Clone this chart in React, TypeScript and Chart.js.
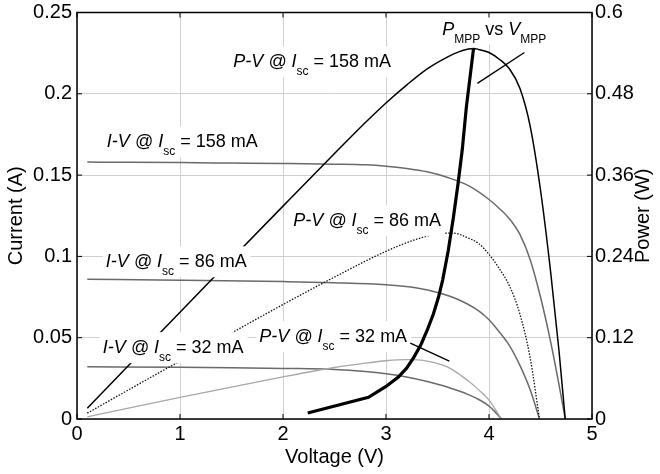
import React, { useEffect, useRef } from 'react';
import { Chart, registerables } from 'chart.js';

Chart.register(...registerables);

const FONT = '"Liberation Sans", Arial, Helvetica, sans-serif';

// Axis ticks
const voltageTicks = [0, 1, 2, 3, 4, 5];
const voltageTickLabels = ['0', '1', '2', '3', '4', '5'];
const currentTicks = [0, 0.05, 0.1, 0.15, 0.2, 0.25];
const currentTickLabels = ['0', '0.05', '0.1', '0.15', '0.2', '0.25'];
const powerTicks = [0, 0.12, 0.24, 0.36, 0.48, 0.6];
const powerTickLabels = ['0', '0.12', '0.24', '0.36', '0.48', '0.6'];

// I-V @ Isc = 158 mA
const iv158V = [0.1, 0.5, 1.0, 1.5, 2.0, 2.5, 2.8, 3.0, 3.2, 3.4, 3.6, 3.8, 4.0, 4.1, 4.2, 4.3, 4.4, 4.5, 4.6, 4.68, 4.74];
const iv158I = [0.158, 0.1579, 0.1577, 0.1574, 0.1571, 0.1567, 0.1563, 0.1555, 0.1541, 0.152, 0.1485, 0.1435, 0.135, 0.1295, 0.123, 0.1135, 0.098, 0.075, 0.047, 0.021, 0];

// P-V @ Isc = 158 mA
const pv158V = [0.1, 0.5, 1.0, 1.5, 2.0, 2.5, 2.8, 3.0, 3.2, 3.4, 3.6, 3.7, 3.8, 3.85, 3.9, 4.0, 4.1, 4.2, 4.3, 4.4, 4.5, 4.6, 4.68, 4.74];
const pv158P = [0.0158, 0.079, 0.1577, 0.2361, 0.3142, 0.3918, 0.4376, 0.4665, 0.4928, 0.5168, 0.5346, 0.5415, 0.546, 0.547, 0.5455, 0.541, 0.531, 0.5166, 0.4881, 0.432, 0.338, 0.215, 0.1, 0];

// I-V @ Isc = 86 mA
const iv86V = [0.1, 1.0, 2.0, 2.5, 3.0, 3.3, 3.5, 3.7, 3.9, 4.0, 4.1, 4.2, 4.3, 4.4, 4.49];
const iv86I = [0.086, 0.0854, 0.0845, 0.0838, 0.0825, 0.0805, 0.0778, 0.0735, 0.0665, 0.061, 0.0535, 0.045, 0.033, 0.018, 0];

// P-V @ Isc = 86 mA
const pv86V = [0.1, 0.5, 1.0, 1.5, 2.0, 2.5, 3.0, 3.3, 3.5, 3.65, 3.8, 3.9, 4.0, 4.1, 4.2, 4.3, 4.4, 4.49];
const pv86P = [0.0086, 0.043, 0.0855, 0.127, 0.169, 0.2095, 0.2475, 0.2655, 0.273, 0.2745, 0.267, 0.259, 0.243, 0.222, 0.196, 0.155, 0.09, 0];

// I-V @ Isc = 32 mA
const iv32V = [0.1, 1.0, 1.5, 2.0, 2.5, 2.8, 3.0, 3.2, 3.4, 3.6, 3.8, 3.9, 4.0, 4.05, 4.12];
const iv32I = [0.0321, 0.0318, 0.0315, 0.0311, 0.0305, 0.0292, 0.0278, 0.0258, 0.023, 0.0195, 0.015, 0.012, 0.008, 0.005, 0];

// P-V @ Isc = 32 mA
const pv32V = [0.1, 0.5, 1.0, 1.5, 2.0, 2.5, 2.8, 3.0, 3.2, 3.4, 3.6, 3.8, 3.9, 4.0, 4.12];
const pv32P = [0.0032, 0.016, 0.0318, 0.0472, 0.0622, 0.076, 0.0825, 0.086, 0.0875, 0.0855, 0.0765, 0.056, 0.043, 0.028, 0];

// P_MPP vs V_MPP
const mppV = [2.24, 2.83, 3.0, 3.12, 3.2, 3.27, 3.34, 3.4, 3.46, 3.51, 3.55, 3.605, 3.655, 3.7, 3.74, 3.78, 3.85];
const mppP = [0.0088, 0.032, 0.048, 0.062, 0.075, 0.091, 0.11, 0.131, 0.155, 0.18, 0.205, 0.249, 0.298, 0.348, 0.397, 0.46, 0.547];

// Annotations (text parts: i = italic, s = subscript, n = normal)
type Part = [string, string];
const labelParts: Part[][] = [
  [['P-V @ ', 'i'], ['I', 'i'], ['sc', 's'], [' = 158 mA', 'n']],
  [['I-V @ ', 'i'], ['I', 'i'], ['sc', 's'], [' = 158 mA', 'n']],
  [['I-V @ ', 'i'], ['I', 'i'], ['sc', 's'], [' = 86 mA', 'n']],
  [['I-V @ ', 'i'], ['I', 'i'], ['sc', 's'], [' = 32 mA', 'n']],
  [['P-V @ ', 'i'], ['I', 'i'], ['sc', 's'], [' = 86 mA', 'n']],
  [['P-V @ ', 'i'], ['I', 'i'], ['sc', 's'], [' = 32 mA', 'n']],
  [['P', 'i'], ['MPP', 's'], [' vs ', 'n'], ['V', 'i'], ['MPP', 's']],
];
const labelV = [1.516, 0.29, 0.28, 0.25, 2.1, 1.77, 3.547];
const labelI = [0.2162, 0.167, 0.0933, 0.0405, 0.1185, 0.0473, 0.2364];

// Leader lines (voltage, power)
const leaderV = [[3.887, 4.344], [3.236, 3.615]];
const leaderP = [[0.4953, 0.541], [0.112, 0.0855]];

function pts(xs: number[], ys: number[]) {
  return xs.map((x, i) => ({ x, y: ys[i] }));
}

function fontFor(st: string) {
  if (st === 'i') return `italic 18px ${FONT}`;
  if (st === 's') return `12px ${FONT}`;
  return `18px ${FONT}`;
}

export default function App() {
  const ref = useRef<HTMLCanvasElement>(null);

  useEffect(() => {
    document.body.style.margin = '0';
    const canvas = ref.current!;

    const overlay = {
      id: 'overlay',
      afterDatasetsDraw(chart: any) {
        const ctx = chart.ctx as CanvasRenderingContext2D;
        const ca = chart.chartArea;
        const sx = chart.scales.x;
        const sy = chart.scales.y;
        const sp = chart.scales.y1;
        ctx.save();

        // text labels with white background
        for (let k = 0; k < labelParts.length; k++) {
          const parts = labelParts[k];
          const px = sx.getPixelForValue(labelV[k]);
          const py = sy.getPixelForValue(labelI[k]);
          const widths: number[] = [];
          let w = 0;
          for (const [t, st] of parts) {
            ctx.font = fontFor(st);
            const m = ctx.measureText(t).width;
            widths.push(m);
            w += m;
          }
          ctx.fillStyle = '#ffffff';
          ctx.fillRect(px - 3, py - 21, w + 7, 31);
          ctx.fillStyle = '#000000';
          ctx.textAlign = 'left';
          ctx.textBaseline = 'alphabetic';
          let cx = px;
          parts.forEach(([t, st], j) => {
            ctx.font = fontFor(st);
            ctx.fillText(t, cx, st === 's' ? py + 8 : py);
            cx += widths[j];
          });
        }

        // leader lines
        ctx.strokeStyle = '#000000';
        ctx.lineWidth = 1.4;
        leaderV.forEach((vs, k) => {
          ctx.beginPath();
          ctx.moveTo(sx.getPixelForValue(vs[0]), sp.getPixelForValue(leaderP[k][0]));
          ctx.lineTo(sx.getPixelForValue(vs[1]), sp.getPixelForValue(leaderP[k][1]));
          ctx.stroke();
        });

        // box
        ctx.lineWidth = 1.5;
        ctx.strokeRect(ca.left, ca.top, ca.right - ca.left, ca.bottom - ca.top);

        // inward tick marks
        const tl = 5;
        ctx.lineWidth = 1;
        const line = (x1: number, y1: number, x2: number, y2: number) => {
          ctx.beginPath();
          ctx.moveTo(x1, y1);
          ctx.lineTo(x2, y2);
          ctx.stroke();
        };
        voltageTicks.forEach((v) => {
          const p = sx.getPixelForValue(v);
          line(p, ca.bottom, p, ca.bottom - tl);
          line(p, ca.top, p, ca.top + tl);
        });
        currentTicks.forEach((v) => {
          const p = sy.getPixelForValue(v);
          line(ca.left, p, ca.left + tl, p);
        });
        powerTicks.forEach((v) => {
          const p = sp.getPixelForValue(v);
          line(ca.right, p, ca.right - tl, p);
        });

        // right axis title (reads bottom to top)
        ctx.translate(643, (ca.top + ca.bottom) / 2);
        ctx.rotate(-Math.PI / 2);
        ctx.font = `20px ${FONT}`;
        ctx.textAlign = 'center';
        ctx.textBaseline = 'middle';
        ctx.fillStyle = '#000000';
        ctx.fillText('Power (W)', 0, 0);

        ctx.restore();
      },
    };

    const tickFont = { family: FONT, size: 20 };
    const gridColor = '#d0d0d0';

    const chart = new Chart(canvas, {
      type: 'scatter',
      data: {
        datasets: [
          {
            label: 'MPP',
            data: pts(mppV, mppP),
            yAxisID: 'y1',
            borderColor: '#000000',
            borderWidth: 3.2,
            showLine: true,
            pointRadius: 0,
            tension: 0,
          },
          {
            label: 'PV158',
            data: pts(pv158V, pv158P),
            yAxisID: 'y1',
            borderColor: '#000000',
            borderWidth: 1.5,
            showLine: true,
            pointRadius: 0,
            cubicInterpolationMode: 'monotone',
          },
          {
            label: 'PV86',
            data: pts(pv86V, pv86P),
            yAxisID: 'y1',
            borderColor: '#111111',
            borderWidth: 1.3,
            borderDash: [1.5, 1.5],
            showLine: true,
            pointRadius: 0,
            cubicInterpolationMode: 'monotone',
          },
          {
            label: 'PV32',
            data: pts(pv32V, pv32P),
            yAxisID: 'y1',
            borderColor: '#a8a8a8',
            borderWidth: 1.3,
            showLine: true,
            pointRadius: 0,
            cubicInterpolationMode: 'monotone',
          },
          {
            label: 'IV158',
            data: pts(iv158V, iv158I),
            yAxisID: 'y',
            borderColor: '#6a6a6a',
            borderWidth: 1.5,
            showLine: true,
            pointRadius: 0,
            cubicInterpolationMode: 'monotone',
          },
          {
            label: 'IV86',
            data: pts(iv86V, iv86I),
            yAxisID: 'y',
            borderColor: '#6a6a6a',
            borderWidth: 1.5,
            showLine: true,
            pointRadius: 0,
            cubicInterpolationMode: 'monotone',
          },
          {
            label: 'IV32',
            data: pts(iv32V, iv32I),
            yAxisID: 'y',
            borderColor: '#6a6a6a',
            borderWidth: 1.5,
            showLine: true,
            pointRadius: 0,
            cubicInterpolationMode: 'monotone',
          },
        ],
      },
      options: {
        animation: false,
        responsive: false,
        devicePixelRatio: 1,
        layout: { padding: { top: 12.5, left: 0, right: 0, bottom: 0 } },
        plugins: { legend: { display: false }, tooltip: { enabled: false } },
        scales: {
          x: {
            type: 'linear',
            min: 0,
            max: 5,
            afterBuildTicks: (s: any) => {
              s.ticks = voltageTicks.map((v) => ({ value: v }));
            },
            afterFit: (s: any) => {
              s.height = 55;
              s.paddingLeft = 0;
              s.paddingRight = 0;
            },
            ticks: {
              font: tickFont,
              color: '#000000',
              padding: 3,
              maxRotation: 0,
              autoSkip: false,
              callback: (_v: any, i: number) => voltageTickLabels[i],
            },
            grid: { color: gridColor, lineWidth: 1, drawTicks: false },
            border: { display: false },
            title: {
              display: true,
              text: 'Voltage (V)',
              font: tickFont,
              color: '#000000',
              padding: { top: 0, bottom: 5 },
            },
          },
          y: {
            type: 'linear',
            position: 'left',
            min: 0,
            max: 0.25,
            afterBuildTicks: (s: any) => {
              s.ticks = currentTicks.map((v) => ({ value: v }));
            },
            afterFit: (s: any) => {
              s.width = 77;
              s.paddingTop = 0;
              s.paddingBottom = 0;
            },
            ticks: {
              font: tickFont,
              color: '#000000',
              padding: 5,
              autoSkip: false,
              callback: (_v: any, i: number) => currentTickLabels[i],
            },
            grid: { color: gridColor, lineWidth: 1, drawTicks: false },
            border: { display: false },
            title: {
              display: true,
              text: 'Current (A)',
              font: tickFont,
              color: '#000000',
              padding: { top: 4.5, bottom: 0 },
            },
          },
          y1: {
            type: 'linear',
            position: 'right',
            min: 0,
            max: 0.6,
            afterBuildTicks: (s: any) => {
              s.ticks = powerTicks.map((v) => ({ value: v }));
            },
            afterFit: (s: any) => {
              s.width = 68;
              s.paddingTop = 0;
              s.paddingBottom = 0;
            },
            ticks: {
              font: tickFont,
              color: '#000000',
              padding: 3,
              autoSkip: false,
              callback: (_v: any, i: number) => powerTickLabels[i],
            },
            grid: { drawOnChartArea: false, drawTicks: false },
            border: { display: false },
          },
        },
      },
      plugins: [overlay],
    } as any);

    return () => chart.destroy();
  }, []);

  return (
    <div style={{ width: 660, height: 474 }}>
      <canvas ref={ref} width={660} height={474} style={{ display: 'block', width: 660, height: 474 }} />
    </div>
  );
}
